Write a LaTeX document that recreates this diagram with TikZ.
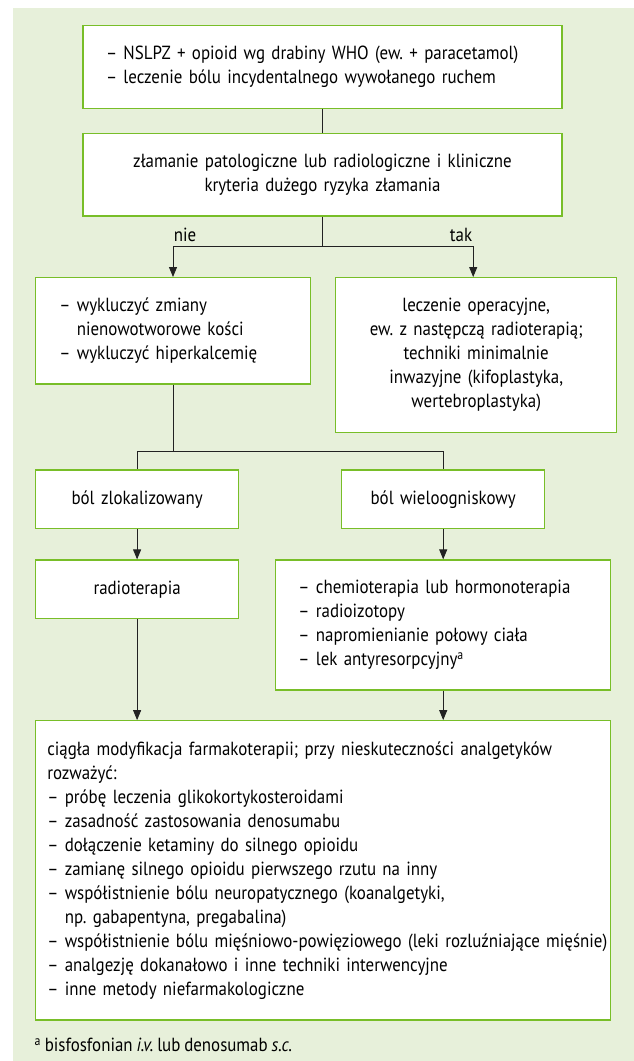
\documentclass[tikz,border=0pt]{standalone}
\usepackage{fontspec}
\setmainfont{PT Sans}[FakeStretch=0.89,WordSpace=0.85]
\usetikzlibrary{arrows.meta,calc}
\definecolor{bgcol}{HTML}{E7F0DA}
\definecolor{bdcol}{HTML}{78BE28}
\definecolor{lncol}{HTML}{222222}
\newcommand\boxfont{\fontsize{19}{24}\selectfont\frenchspacing}
\newcommand\hind{\hphantom{– }}
\begin{document}
\frenchspacing
\begin{tikzpicture}[x=1pt,y=-1pt,
  box/.style={draw=bdcol, fill=white, line width=1.3pt, inner ysep=0pt, font=\boxfont, text=black},
  conn/.style={draw=lncol, line width=0.9pt},
  arr/.style={conn, -{Triangle[length=10pt,width=8pt]}},
  lbl/.style={font=\boxfont, inner sep=0pt}]
\useasboundingbox (0,0) rectangle (634,1061);
\fill[bgcol] (13,8) rectangle (634,1061);

\node[box, text width=433pt, inner xsep=23pt, minimum height=83pt, align=left] (top) at (322.5,66.8)
  {– NSLPZ + opioid wg drabiny WHO (ew. + paracetamol)\\– leczenie bólu incydentalnego wywołanego ruchem};
\node[box, text width=440pt, inner xsep=19.5pt, minimum height=82.7pt, align=center] (second) at (322.5,174.7)
  {złamanie patologiczne lub radiologiczne i kliniczne\\kryteria dużego ryzyka złamania};
\node[box, text width=227.4pt, inner xsep=23.8pt, minimum height=106.3pt, align=left] (nie) at (173,330.8)
  {– wykluczyć zmiany\\\hind nienowotworowe kości\\– wykluczyć hiperkalcemię};
\node[box, text width=251pt, inner xsep=15pt, minimum height=154.6pt, align=center] (tak) at (476.2,355)
  {leczenie operacyjne,\\ew. z następczą radioterapią;\\techniki minimalnie\\inwazyjne (kifoplastyka,\\wertebroplastyka)};
\node[box, text width=183pt, inner xsep=10pt, minimum height=58.3pt, align=center] (zlok) at (137.1,499.2)
  {ból zlokalizowany};
\node[box, text width=183pt, inner xsep=10pt, minimum height=58.3pt, align=center] (wielo) at (443.2,499.2)
  {ból wieloogniskowy};
\node[box, text width=183pt, inner xsep=10pt, minimum height=58.3pt, align=center] (radio) at (137.1,589.2)
  {radioterapia};
\node[box, text width=289.6pt, inner xsep=22.6pt, minimum height=130pt, align=left] (chemo) at (443.2,625)
  {– chemioterapia lub hormonoterapia\\– radioizotopy\\– napromienianie połowy ciała\\– lek antyresorpcyjny\textsuperscript{a}};
\node[box, text width=551.6pt, inner xsep=11.7pt, minimum height=299.3pt, align=left] (big) at (323.1,870.4)
  {ciągła modyfikacja farmakoterapii; przy nieskuteczności analgetyków\\
   rozważyć:\\
   – próbę leczenia glikokortykosteroidami\\
   – zasadność zastosowania denosumabu\\
   – dołączenie ketaminy do silnego opioidu\\
   – zamianę silnego opioidu pierwszego rzutu na inny\\
   – współistnienie bólu neuropatycznego (koanalgetyki,\\
   \hind np. gabapentyna, pregabalina)\\
   \mbox{– współistnienie bólu mięśniowo-powięziowego (leki rozluźniające mięśnie)}\\
   – analgezję dokanałowo i inne techniki interwencyjne\\
   – inne metody niefarmakologiczne};

\node[lbl, anchor=west] (foot) at (34.4,1045)
  {\textsuperscript{a} bisfosfonian \textit{i.v.} lub denosumab \textit{s.c.}};

\node[lbl] (lnie) at (185,235) {nie};
\node[lbl] (ltak) at (461,235) {tak};

\coordinate (split) at (322.5,246.7);
\coordinate (split2) at (173,451.7);

\draw[conn] (top) -- (second);
\draw[conn] (second.south) -- (split);
\draw[arr] (split) -| (nie.north);
\draw[arr] (split) -| ($(tak.north)+(-3,0)$);
\draw[conn] (nie.south) -- (split2);
\draw[conn] (split2) -| (zlok.north);
\draw[conn] (split2) -| (wielo.north);
\draw[arr] (zlok) -- (radio);
\draw[arr] (wielo) -- (chemo);
\draw[arr] (radio.south) -- (radio.south |- big.north);
\draw[arr] (chemo.south) -- (chemo.south |- big.north);
\end{tikzpicture}
\end{document}
